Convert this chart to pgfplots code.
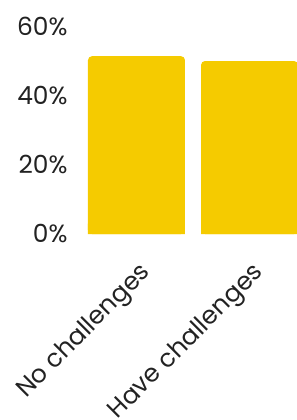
\documentclass[border=0pt]{standalone}
\usepackage{fontspec}
\setmainfont{Poppins}
\usepackage{pgfplots}
\pgfplotsset{compat=1.18}
\definecolor{baryellow}{HTML}{F5CB00}
\definecolor{txt}{HTML}{222222}
\begin{document}
\begin{tikzpicture}[x=1bp,y=1bp]
\path[use as bounding box] (0,0) rectangle (297,420);
\begin{axis}[
  at={(75bp,186bp)}, anchor=south west,
  scale only axis, width=222bp, height=208bp,
  xmin=-0.544, xmax=1.42, ymin=0, ymax=60,
  axis line style={draw=none},
  major tick length=0pt,
  ytick={0,20,40,60},
  yticklabel={\pgfmathprintnumber{\tick}\%},
  /pgf/number format/assume math mode=true,
  xtick={0,1}, xticklabels={No challenges, Have challenges},
  ticklabel style={font=\fontsize{25}{28}\selectfont, text=txt},
  yticklabel style={anchor=east, xshift=-4bp},
  xticklabel style={xshift=13bp, yshift=-33bp, rotate=45, anchor=east},
  ybar, bar width=97bp, bar shift=0pt,
  clip=true,
]
\addplot[fill=baryellow, draw=none, rounded corners=4bp] coordinates {(0,51.3) (1,49.9)};
\addplot[fill=baryellow, draw=none] coordinates {(0,3) (1,3)};
\end{axis}
\end{tikzpicture}
\end{document}
